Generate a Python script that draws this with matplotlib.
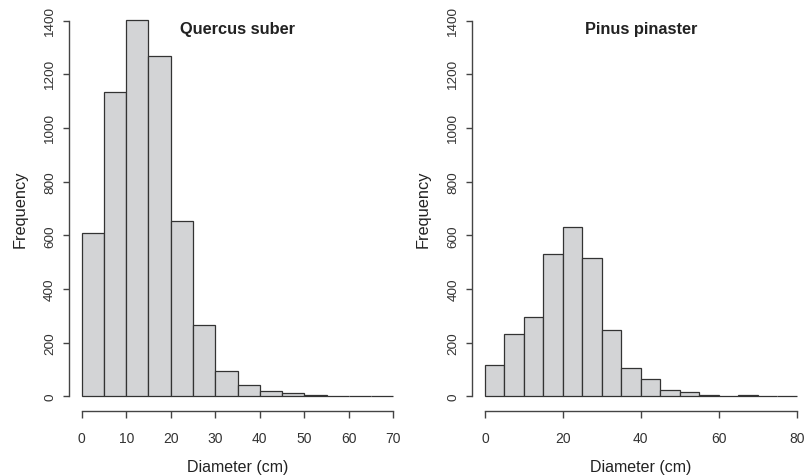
import matplotlib
matplotlib.use("Agg")
import matplotlib.pyplot as plt
import numpy as np

plt.rcParams['font.family'] = ['Liberation Sans', 'DejaVu Sans']

bin_width = 5
quercus_counts = [610, 1134, 1403, 1267, 652, 264, 96, 43, 21, 11, 3, 0, 0, 0]
pinus_counts = [118, 232, 297, 532, 631, 517, 247, 106, 65, 25, 16, 6, 1, 4, 0, 0]
titles = ["Quercus suber", "Pinus pinaster"]
xmax = [70, 80]
xticks = [[0, 10, 20, 30, 40, 50, 60, 70], [0, 20, 40, 60, 80]]
yticks = [0, 200, 400, 600, 800, 1000, 1200, 1400]

fig = plt.figure(figsize=(8.12, 4.77), dpi=100)
W, H = 812, 477
boxes = [(69.2, 405.8), (472.5, 809.2)]
ytop, ybot = 6.7, 412.3

edge = '#333333'
fill = '#d3d4d6'
txt = '#222222'

for i, counts in enumerate([quercus_counts, pinus_counts]):
    x0, x1 = boxes[i]
    ax = fig.add_axes([x0 / W, (H - ybot) / H, (x1 - x0) / W, (ybot - ytop) / H])
    lefts = np.arange(len(counts)) * bin_width
    ax.bar(lefts, counts, width=bin_width, align='edge', color=fill,
           edgecolor=edge, linewidth=0.9)
    pad_x = 0.04 * xmax[i]
    ax.set_xlim(-pad_x, xmax[i] + pad_x)
    ax.set_ylim(-0.04 * 1400, 1400 * 1.04)
    for s in ['top', 'right']:
        ax.spines[s].set_visible(False)
    ax.spines['left'].set_bounds(0, 1400)
    ax.spines['bottom'].set_bounds(0, xmax[i])
    for s in ['left', 'bottom']:
        ax.spines[s].set_color('#444444')
        ax.spines[s].set_linewidth(1.0)
    ax.set_xticks(xticks[i])
    ax.set_yticks(yticks)
    ax.set_yticklabels([str(v) for v in yticks], rotation=90, va='center')
    ax.tick_params(axis='x', length=5, width=1.0, color='#444444', pad=9,
                   labelsize=10, labelcolor='#333333')
    ax.tick_params(axis='y', length=4.5, width=1.0, color='#444444', pad=5,
                   labelsize=9.7, labelcolor='#333333')
    ax.set_xlabel("Diameter (cm)", fontsize=11.5, color=txt, labelpad=10.5)
    ax.set_ylabel("Frequency", fontsize=11.8, color=txt, labelpad=12)
    ax.text(0.5, 0.943, titles[i], transform=ax.transAxes, ha='center',
            va='center', fontsize=11.8, fontweight='bold', color=txt)
    ax.patch.set_visible(False)

fig.savefig("out.png", dpi=100)
